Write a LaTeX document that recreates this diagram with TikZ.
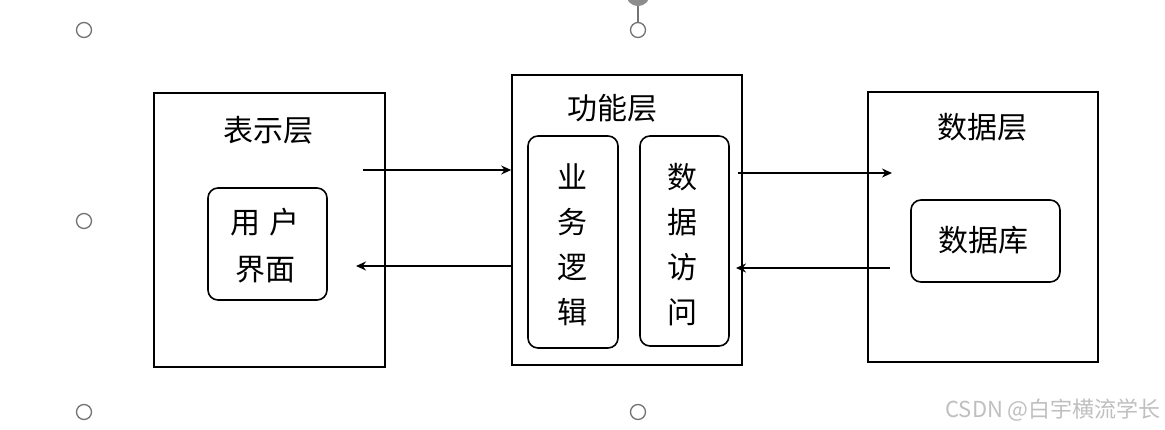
\documentclass[tikz,border=0pt]{standalone}
\usepackage{fontspec}
\newfontfamily\cjk{Noto Sans CJK SC}
\usetikzlibrary{arrows.meta}
\begin{document}
\begin{tikzpicture}[x=1pt,y=-1pt,
  layer/.style={draw=black,line width=1.6pt},
  inner/.style={draw=black,line width=1.6pt,rounded corners=10pt},
  lbl/.style={font=\cjk\fontsize{30}{30}\selectfont,inner sep=0pt},
  conn/.style={line width=1.4pt,-{Stealth[length=10pt,width=9pt]}},
  handle/.style={draw=black!55,line width=1.3pt,fill=white},
]
\useasboundingbox (0,0) rectangle (1165,429);
\fill[white] (0,0) rectangle (1165,429);
% layers
\node[layer,minimum width=231pt,minimum height=274pt,inner sep=0pt] (pres) at (269.5,230) {};
\node[layer,minimum width=230pt,minimum height=290pt,inner sep=0pt] (func) at (627,220) {};
\node[layer,minimum width=230pt,minimum height=270pt,inner sep=0pt] (data) at (983,227) {};
\node[lbl] (presT) at (268,130) {表示层};
\node[lbl] (funcT) at (612,108) {功能层};
\node[lbl] (dataT) at (982,127) {数据层};
% inner boxes
\node[inner,minimum width=119pt,minimum height=112pt,inner sep=0pt] (ui) at (267.5,244) {};
\node[lbl,align=center] (uiT) at (265,246) {用\,\,户\\[17pt]界面};
\node[inner,minimum width=90pt,minimum height=212pt,inner sep=0pt] (biz) at (573,242) {};
\node[lbl,align=center] (bizT) at (572,245) {业\\[15pt]务\\[15pt]逻\\[15pt]辑};
\node[inner,minimum width=89pt,minimum height=210pt,inner sep=0pt] (dao) at (684.5,241) {};
\node[lbl,align=center] (daoT) at (682,245) {数\\[15pt]据\\[15pt]访\\[15pt]问};
\node[inner,minimum width=149pt,minimum height=82pt,inner sep=0pt] (db) at (985.5,241) {};
\node[lbl] (dbT) at (983,240) {数据库};
% connectors
\coordinate (a1s) at (363,170);
\coordinate (a1t) at (func.west|-a1s);
\draw[conn] (a1s) -- (a1t);
\coordinate (a2s) at (func.west|-0,266); \coordinate (a2t) at (356,266);
\draw[conn] (a2s) -- (a2t);
\coordinate (a3s) at (738,173); \coordinate (a3t) at (892,173);
\draw[conn] (a3s) -- (a3t);
\coordinate (a4s) at (890,268); \coordinate (a4t) at (736,268);
\draw[conn] (a4s) -- (a4t);
% selection handles
\draw[black!55,line width=1.2pt] (638,-4) -- (638,23);
\draw[black!45,line width=6pt] (638,-6) circle (9pt);
\foreach \n/\x/\y in {h1/84/30,h2/638/30,h3/84/221,h4/84/412,h5/638/412}
  \node[handle,circle,minimum size=15pt,inner sep=0pt] (\n) at (\x,\y) {};
% watermark
\node[font=\cjk\fontsize{22}{24}\selectfont,text=black!25,anchor=east,inner sep=0pt] (wm) at (1161,410) {CSDN @白宇横流学长};
\end{tikzpicture}
\end{document}
